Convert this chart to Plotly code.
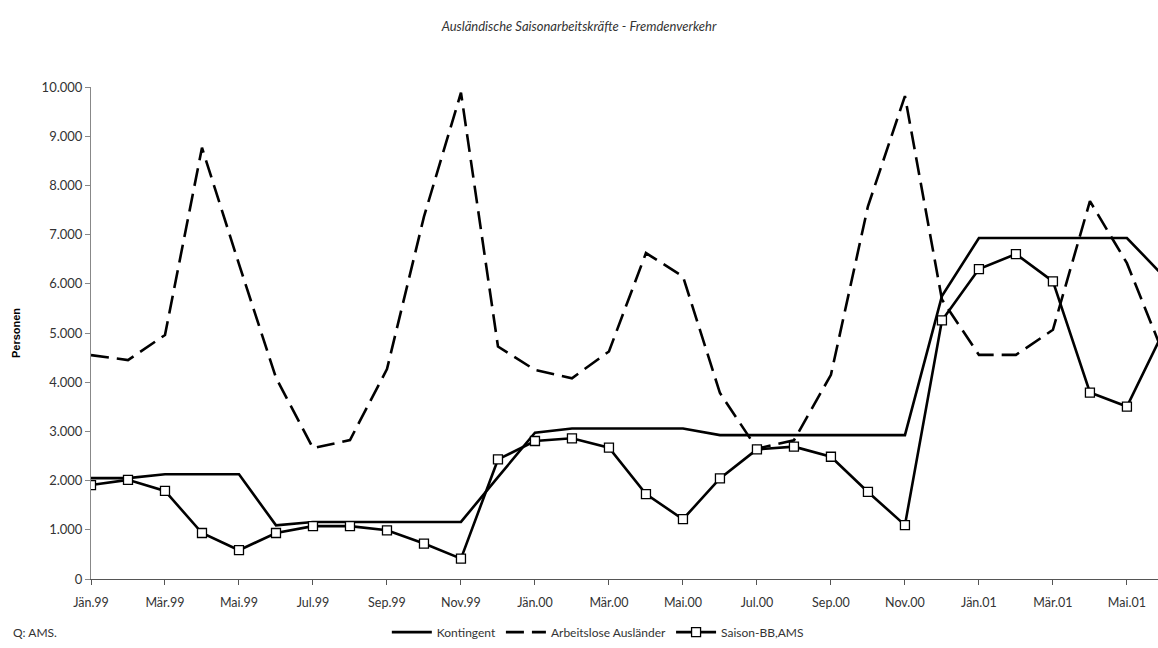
import plotly.graph_objects as go

months = ["Jän.99", "Feb.99", "Mär.99", "Apr.99", "Mai.99", "Jun.99", "Jul.99", "Aug.99",
          "Sep.99", "Okt.99", "Nov.99", "Dez.99", "Jän.00", "Feb.00", "Mär.00", "Apr.00",
          "Mai.00", "Jun.00", "Jul.00", "Aug.00", "Sep.00", "Okt.00", "Nov.00", "Dez.00",
          "Jän.01", "Feb.01", "Mär.01", "Apr.01", "Mai.01", "Jun.01"]

kontingent = [2050, 2050, 2130, 2130, 2130, 1090, 1160, 1160, 1160, 1160, 1160, 2070,
              2975, 3060, 3060, 3060, 3060, 2925, 2925, 2925, 2925, 2925, 2925, 5750,
              6930, 6930, 6930, 6930, 6930, 6150]

arbeitslose = [4550, 4450, 4960, 8765, 6400, 4090, 2660, 2825, 4265, 7365, 9885, 4725,
               4250, 4080, 4625, 6625, 6150, 3780, 2650, 2820, 4150, 7575, 9815, 5680,
               4555, 4555, 5065, 7680, 6420, 4550]

saison = [1910, 2015, 1790, 935, 585, 935, 1075, 1075, 990, 720, 415, 2430,
          2805, 2860, 2670, 1725, 1215, 2045, 2635, 2690, 2485, 1770, 1095, 5255,
          6300, 6605, 6050, 3790, 3505, 5050]

tick_labels = months[::2]

FONT = "Lato"
fig = go.Figure()
fig.add_trace(go.Scatter(x=months, y=kontingent, name="Kontingent", mode="lines",
                         line=dict(color="black", width=2.6)))
fig.add_trace(go.Scatter(x=months, y=arbeitslose, name="Arbeitslose Ausländer", mode="lines",
                         line=dict(color="black", width=2.6, dash="18px,8px")))
fig.add_trace(go.Scatter(x=months, y=saison, name="Saison-BB,AMS", mode="lines+markers",
                         line=dict(color="black", width=2.6),
                         marker=dict(symbol="square", size=9, color="white",
                                     line=dict(color="black", width=1.3))))

fig.update_layout(
    width=1158, height=648,
    margin=dict(l=91, r=0, t=87, b=69),
    paper_bgcolor="white", plot_bgcolor="white",
    font=dict(family=FONT, color="#333333", size=12),
    title=dict(text="<i>Ausländische Saisonarbeitskräfte - Fremdenverkehr</i>",
               x=0.5, xanchor="center", y=0.959, yanchor="middle",
               font=dict(size=13, color="#333333", family=FONT)),
    showlegend=True,
    legend=dict(orientation="h", x=0.475, xanchor="center", y=-0.108, yanchor="middle",
                font=dict(size=12, color="#333333", family=FONT),
                itemwidth=40, tracegroupgap=0, bgcolor="rgba(0,0,0,0)"),
    xaxis=dict(type="category", categoryorder="array", categoryarray=months,
               range=[0, 28.84], tickmode="array", tickvals=tick_labels, ticktext=tick_labels,
               showgrid=False, zeroline=False, showline=True, linecolor="#555555", linewidth=1,
               ticks="outside", ticklen=5, tickcolor="#555555", ticklabelstandoff=7,
               tickfont=dict(size=12.5, color="#333333", family=FONT)),
    yaxis=dict(range=[0, 10000], tickmode="array",
               tickvals=[0, 1000, 2000, 3000, 4000, 5000, 6000, 7000, 8000, 9000, 10000],
               ticktext=["0", "1.000", "2.000", "3.000", "4.000", "5.000", "6.000", "7.000",
                         "8.000", "9.000", "10.000"],
               showgrid=False, zeroline=False, showline=True, linecolor="#888888", linewidth=1,
               ticks="outside", ticklen=5, tickcolor="#888888",
               tickfont=dict(size=13, color="#333333", family=FONT),
               title=dict(text="<b>Personen</b>", standoff=18,
                          font=dict(size=11, color="black", family="Liberation Sans"))),
)

fig.add_annotation(text="Q: AMS.", xref="paper", yref="paper", x=-0.075, y=-0.108,
                   xanchor="left", yanchor="middle", showarrow=False,
                   font=dict(size=12, color="#333333", family=FONT))

fig.write_html("out.html")
